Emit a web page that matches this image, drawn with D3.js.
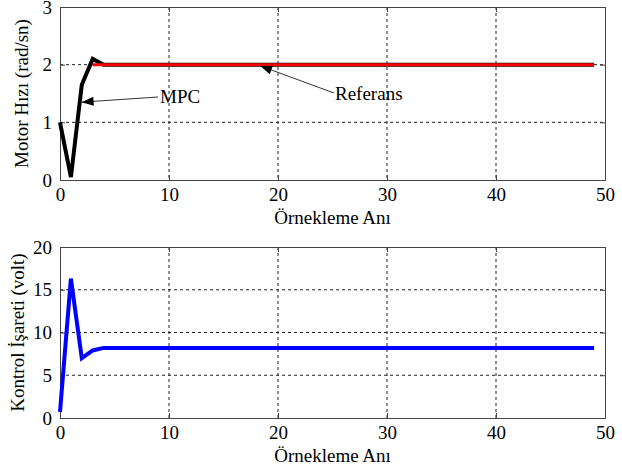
<!DOCTYPE html>
<html>
<head>
<meta charset="utf-8">
<script src="https://cdn.jsdelivr.net/npm/d3@7"></script>
</head>
<body style="margin:0; background:#fff">
<svg width="622" height="467"></svg>
<script>
// data
var mpcX = [0, 1, 2, 3, 4, 5, 10, 20, 30, 40, 49];
var mpcY = [1.0, 0.05, 1.65, 2.1, 2.0, 2.0, 2.0, 2.0, 2.0, 2.0, 2.0];
var refX = [3, 49];
var refY = [2, 2];
var ctrlX = [0, 1, 2, 3, 4, 5, 10, 20, 30, 40, 49];
var ctrlY = [0.7, 16.3, 7.0, 7.9, 8.2, 8.2, 8.2, 8.2, 8.2, 8.2, 8.2];
var xTicks = [0, 10, 20, 30, 40, 50];
var topTicks = [0, 1, 2, 3];
var botTicks = [0, 5, 10, 15, 20];

var svg = d3.select("svg");
var left = 60, right = 605;

var x = d3.scaleLinear().domain([0, 50]).range([left, right]);

function panel(top, bottom, yDomain, yTicks, yLabel, labelX) {
  var y = d3.scaleLinear().domain(yDomain).range([bottom, top]);
  var g = svg.append("g");

  // grid
  g.selectAll(".vg").data(xTicks.slice(1, -1)).enter().append("line")
    .attr("x1", d => x(d)).attr("x2", d => x(d))
    .attr("y1", top).attr("y2", bottom)
    .attr("stroke", "#222").attr("stroke-width", 1).attr("stroke-dasharray", "3,3");
  g.selectAll(".hg").data(yTicks.slice(1, -1)).enter().append("line")
    .attr("x1", left).attr("x2", right)
    .attr("y1", d => y(d)).attr("y2", d => y(d))
    .attr("stroke", "#222").attr("stroke-width", 1).attr("stroke-dasharray", "3,3");

  // axes, ticks pointing in, full box
  var ax = g.append("g").attr("transform", "translate(0," + bottom + ")")
    .call(d3.axisBottom(x).tickValues(xTicks).tickSize(-5).tickPadding(8).tickFormat(d3.format("d")));
  var axTop = g.append("g").attr("transform", "translate(0," + top + ")")
    .call(d3.axisTop(x).tickValues(xTicks).tickSize(-5).tickFormat(""));
  var ay = g.append("g").attr("transform", "translate(" + left + ",0)")
    .call(d3.axisLeft(y).tickValues(yTicks).tickSize(-5).tickPadding(8).tickFormat(d3.format("d")));
  var ayR = g.append("g").attr("transform", "translate(" + right + ",0)")
    .call(d3.axisRight(y).tickValues(yTicks).tickSize(-5).tickFormat(""));
  [ax, axTop, ay, ayR].forEach(function (a) {
    a.attr("font-family", null).attr("font-size", null);
    a.selectAll("path").attr("stroke", "#444");
    a.selectAll("line").attr("stroke", "#444");
    a.selectAll("text").attr("fill", "#000");
  });

  svg.append("text")
    .attr("x", (left + right) / 2).attr("y", bottom + 44)
    .attr("text-anchor", "middle")
    .text("Örnekleme Anı");
  svg.append("text")
    .attr("transform", "translate(" + labelX + "," + (top + bottom) / 2 + ") rotate(-90)")
    .attr("text-anchor", "middle")
    .text(yLabel);
  return y;
}

var y1 = panel(7, 180, [0, 3], topTicks, "Motor Hızı (rad/sn)", 28);
var y2 = panel(247, 418, [0, 20], botTicks, "Kontrol İşareti (volt)", 24);

var line1 = d3.line().x(d => x(d[0])).y(d => y1(d[1]));
var line2 = d3.line().x(d => x(d[0])).y(d => y2(d[1]));

svg.append("path").datum(d3.zip(mpcX, mpcY)).attr("d", line1)
  .attr("fill", "none").attr("stroke", "#000").attr("stroke-width", 4)
  .attr("stroke-linejoin", "miter");
svg.append("path").datum(d3.zip(refX, refY)).attr("d", line1)
  .attr("fill", "none").attr("stroke", "#ff0000").attr("stroke-width", 3);
svg.append("path").datum(d3.zip(ctrlX, ctrlY)).attr("d", line2)
  .attr("fill", "none").attr("stroke", "#0000ff").attr("stroke-width", 4);

// arrow annotations
function note(txt, tx, ty, hx, hy, lx, ly) {
  var ex = x(hx), ey = y1(hy);
  var ang = Math.atan2(ey - ly, ex - lx), L = 12, W = 4.5;
  svg.append("line").attr("x1", lx).attr("y1", ly).attr("x2", ex).attr("y2", ey)
    .attr("stroke", "#333").attr("stroke-width", 1);
  var bx = ex - L * Math.cos(ang), by = ey - L * Math.sin(ang);
  var px = -Math.sin(ang) * W, py = Math.cos(ang) * W;
  svg.append("path")
    .attr("d", "M" + ex + "," + ey + "L" + (bx + px) + "," + (by + py) + "L" + (bx - px) + "," + (by - py) + "Z")
    .attr("fill", "#000");
  svg.append("text").attr("x", tx).attr("y", ty).text(txt);
}
note("MPC", 160, 103, 1.98, 1.35, 158, 97);
note("Referans", 335, 100, 18.35, 1.98, 334, 93);

// one font for every text
svg.selectAll("text")
  .attr("font-family", "Liberation Serif").attr("font-size", 19)
  .style("font-family", "Liberation Serif").style("font-size", "19px");
</script>
</body>
</html>
